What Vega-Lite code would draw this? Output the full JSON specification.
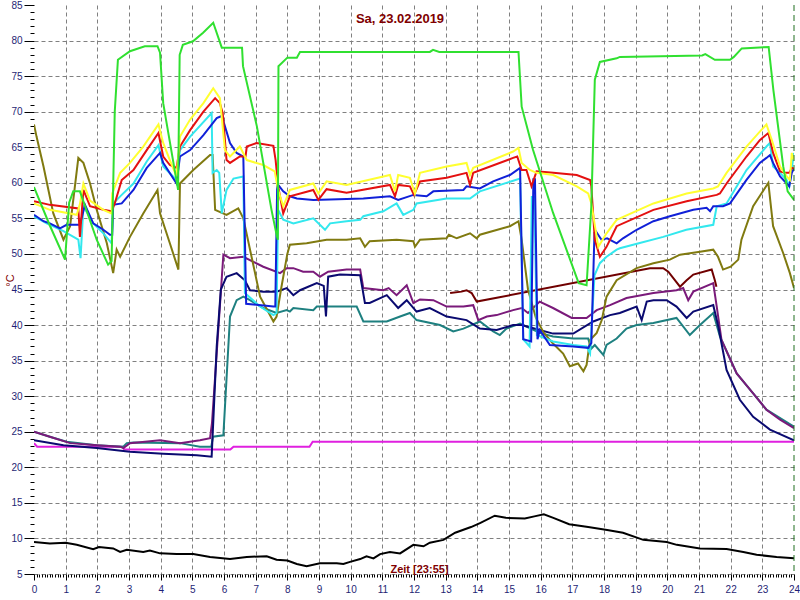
{
"$schema": "https://vega.github.io/schema/vega-lite/v6.json",
"width": 760, "height": 569,
"autosize": "none",
"padding": {"left": 34, "top": 5, "right": 6, "bottom": 26},
"background": "white",
"config": {"view": {"stroke": null}},
"title": {"text": "Sa, 23.02.2019", "font": "Liberation Sans", "fontSize": 13, "fontWeight": "bold", "color": "#800000", "anchor": "middle", "frame": "group", "offset": 0, "baseline": "alphabetic", "dy": 36, "dx": -14},
"datasets": {
"now": [{"t": 24}],
"series": [
{"s":"bk","t":0,"v":9.5},{"s":"bk","t":0.5,"v":9.3},{"s":"bk","t":1,"v":9.4},{"s":"bk","t":1.35,"v":9.1},{"s":"bk","t":1.87,"v":8.5},{"s":"bk","t":2.05,"v":8.8},{"s":"bk","t":2.5,"v":8.6},{"s":"bk","t":2.72,"v":8.1},{"s":"bk","t":2.93,"v":8.4},{"s":"bk","t":3.45,"v":8.1},{"s":"bk","t":3.66,"v":8.3},{"s":"bk","t":3.98,"v":7.9},{"s":"bk","t":4.5,"v":7.8},{"s":"bk","t":5.03,"v":7.8},{"s":"bk","t":5.56,"v":7.4},{"s":"bk","t":6.19,"v":7.1},{"s":"bk","t":6.72,"v":7.4},{"s":"bk","t":7.35,"v":7.5},{"s":"bk","t":7.66,"v":7.0},{"s":"bk","t":8,"v":6.9},{"s":"bk","t":8.3,"v":6.4},{"s":"bk","t":8.61,"v":6.1},{"s":"bk","t":9.03,"v":6.5},{"s":"bk","t":9.56,"v":6.5},{"s":"bk","t":9.77,"v":6.4},{"s":"bk","t":9.98,"v":6.7},{"s":"bk","t":10.3,"v":7.1},{"s":"bk","t":10.5,"v":7.5},{"s":"bk","t":10.72,"v":7.2},{"s":"bk","t":10.93,"v":7.8},{"s":"bk","t":11.24,"v":8.1},{"s":"bk","t":11.56,"v":7.9},{"s":"bk","t":11.98,"v":9.1},{"s":"bk","t":12.3,"v":8.9},{"s":"bk","t":12.5,"v":9.4},{"s":"bk","t":12.93,"v":9.8},{"s":"bk","t":13.3,"v":10.8},{"s":"bk","t":13.8,"v":11.6},{"s":"bk","t":14.1,"v":12.2},{"s":"bk","t":14.55,"v":13.2},{"s":"bk","t":14.9,"v":12.9},{"s":"bk","t":15.5,"v":12.8},{"s":"bk","t":15.8,"v":13.1},{"s":"bk","t":16.1,"v":13.4},{"s":"bk","t":16.4,"v":12.9},{"s":"bk","t":16.9,"v":12.0},{"s":"bk","t":17.5,"v":11.6},{"s":"bk","t":18.1,"v":11.2},{"s":"bk","t":18.6,"v":10.8},{"s":"bk","t":19.24,"v":9.8},{"s":"bk","t":19.98,"v":9.5},{"s":"bk","t":20.3,"v":9.1},{"s":"bk","t":21.03,"v":8.6},{"s":"bk","t":21.87,"v":8.5},{"s":"bk","t":22.4,"v":8.1},{"s":"bk","t":22.82,"v":7.7},{"s":"bk","t":23.45,"v":7.4},{"s":"bk","t":24,"v":7.2},
{"s":"mg","t":0,"v":23.4},{"s":"mg","t":0.1,"v":22.9},{"s":"mg","t":2.8,"v":22.9},{"s":"mg","t":2.85,"v":22.5},{"s":"mg","t":6.2,"v":22.5},{"s":"mg","t":6.3,"v":22.9},{"s":"mg","t":8.7,"v":22.9},{"s":"mg","t":8.8,"v":23.6},{"s":"mg","t":24,"v":23.6},
{"s":"tl","t":0,"v":25},{"s":"tl","t":0.5,"v":24.3},{"s":"tl","t":1.03,"v":23.6},{"s":"tl","t":1.98,"v":23.1},{"s":"tl","t":2.82,"v":22.9},{"s":"tl","t":2.93,"v":23.4},{"s":"tl","t":3.14,"v":23.5},{"s":"tl","t":4.61,"v":23.4},{"s":"tl","t":5.24,"v":22.9},{"s":"tl","t":5.6,"v":22.9},{"s":"tl","t":5.65,"v":24.3},{"s":"tl","t":5.98,"v":24.5},{"s":"tl","t":6.19,"v":41.2},{"s":"tl","t":6.4,"v":43.5},{"s":"tl","t":6.61,"v":44},{"s":"tl","t":6.82,"v":43.5},{"s":"tl","t":7.24,"v":42.4},{"s":"tl","t":7.66,"v":41.7},{"s":"tl","t":7.98,"v":42.1},{"s":"tl","t":8.08,"v":41.9},{"s":"tl","t":8.19,"v":42.4},{"s":"tl","t":8.82,"v":42.1},{"s":"tl","t":8.93,"v":42.6},{"s":"tl","t":9.66,"v":42.6},{"s":"tl","t":10.19,"v":42.6},{"s":"tl","t":10.4,"v":40.5},{"s":"tl","t":11.14,"v":40.5},{"s":"tl","t":11.56,"v":41.2},{"s":"tl","t":11.87,"v":41.7},{"s":"tl","t":12.08,"v":40.7},{"s":"tl","t":12.82,"v":40},{"s":"tl","t":13.24,"v":39.1},{"s":"tl","t":13.56,"v":39.5},{"s":"tl","t":14.08,"v":40.5},{"s":"tl","t":14.5,"v":39.1},{"s":"tl","t":14.71,"v":38.6},{"s":"tl","t":14.92,"v":39.5},{"s":"tl","t":15.35,"v":40.2},{"s":"tl","t":15.97,"v":38.9},{"s":"tl","t":16.39,"v":38.4},{"s":"tl","t":17.03,"v":38.1},{"s":"tl","t":17.5,"v":38.1},{"s":"tl","t":17.6,"v":36.7},{"s":"tl","t":17.71,"v":37.2},{"s":"tl","t":17.98,"v":35.8},{"s":"tl","t":18.08,"v":37.2},{"s":"tl","t":18.4,"v":38.1},{"s":"tl","t":18.71,"v":39.5},{"s":"tl","t":19.03,"v":40},{"s":"tl","t":19.56,"v":40.3},{"s":"tl","t":20.29,"v":41},{"s":"tl","t":20.71,"v":38.6},{"s":"tl","t":21.03,"v":40},{"s":"tl","t":21.45,"v":41.7},{"s":"tl","t":21.66,"v":38.4},{"s":"tl","t":22.19,"v":33.2},{"s":"tl","t":22.71,"v":30.4},{"s":"tl","t":23.13,"v":28.1},{"s":"tl","t":24,"v":25.7},
{"s":"pu","t":0,"v":25},{"s":"pu","t":0.5,"v":24.3},{"s":"pu","t":1.14,"v":23.4},{"s":"pu","t":1.98,"v":23.1},{"s":"pu","t":2.72,"v":22.9},{"s":"pu","t":2.82,"v":22.7},{"s":"pu","t":3.03,"v":23.4},{"s":"pu","t":3.98,"v":23.8},{"s":"pu","t":4.61,"v":23.4},{"s":"pu","t":5.24,"v":23.8},{"s":"pu","t":5.56,"v":24.1},{"s":"pu","t":5.62,"v":26.2},{"s":"pu","t":5.98,"v":49.9},{"s":"pu","t":6.19,"v":49.4},{"s":"pu","t":6.61,"v":49.6},{"s":"pu","t":7.24,"v":48.2},{"s":"pu","t":7.77,"v":47.3},{"s":"pu","t":7.98,"v":48},{"s":"pu","t":8.19,"v":48},{"s":"pu","t":8.5,"v":47.5},{"s":"pu","t":8.82,"v":47.5},{"s":"pu","t":9.03,"v":46.8},{"s":"pu","t":9.29,"v":47.5},{"s":"pu","t":9.87,"v":47.8},{"s":"pu","t":10.3,"v":47.8},{"s":"pu","t":10.4,"v":45.2},{"s":"pu","t":11.03,"v":44.9},{"s":"pu","t":11.2,"v":45.2},{"s":"pu","t":11.45,"v":44.2},{"s":"pu","t":11.77,"v":45.6},{"s":"pu","t":11.98,"v":43.1},{"s":"pu","t":12.19,"v":43.6},{"s":"pu","t":12.61,"v":43.5},{"s":"pu","t":13.03,"v":42.6},{"s":"pu","t":13.56,"v":42.6},{"s":"pu","t":13.87,"v":42.8},{"s":"pu","t":14.03,"v":40.7},{"s":"pu","t":14.3,"v":41.2},{"s":"pu","t":14.61,"v":41.4},{"s":"pu","t":15.13,"v":42.1},{"s":"pu","t":15.4,"v":42.4},{"s":"pu","t":15.6,"v":41.7},{"s":"pu","t":15.97,"v":43.3},{"s":"pu","t":16.39,"v":42.4},{"s":"pu","t":16.98,"v":41},{"s":"pu","t":17.45,"v":41},{"s":"pu","t":17.77,"v":42.1},{"s":"pu","t":18.19,"v":42.8},{"s":"pu","t":18.71,"v":43.8},{"s":"pu","t":19.56,"v":44.5},{"s":"pu","t":20.29,"v":44.9},{"s":"pu","t":20.5,"v":45.2},{"s":"pu","t":20.66,"v":43.5},{"s":"pu","t":20.82,"v":44.7},{"s":"pu","t":21.45,"v":45.9},{"s":"pu","t":21.56,"v":42.6},{"s":"pu","t":21.71,"v":37.9},{"s":"pu","t":22.19,"v":33.2},{"s":"pu","t":22.71,"v":30.4},{"s":"pu","t":23.13,"v":28.1},{"s":"pu","t":23.56,"v":26.7},{"s":"pu","t":24,"v":25.5},
{"s":"nv","t":0,"v":23.8},{"s":"nv","t":0.93,"v":23.1},{"s":"nv","t":1.98,"v":22.7},{"s":"nv","t":3.03,"v":22.2},{"s":"nv","t":4.08,"v":21.9},{"s":"nv","t":5.14,"v":21.7},{"s":"nv","t":5.61,"v":21.5},{"s":"nv","t":5.77,"v":37},{"s":"nv","t":5.9,"v":45},{"s":"nv","t":6.08,"v":46.8},{"s":"nv","t":6.4,"v":47.3},{"s":"nv","t":6.66,"v":46.3},{"s":"nv","t":6.82,"v":44.9},{"s":"nv","t":7.24,"v":44.7},{"s":"nv","t":7.66,"v":44.7},{"s":"nv","t":7.98,"v":45.2},{"s":"nv","t":8.19,"v":44.2},{"s":"nv","t":8.4,"v":44.9},{"s":"nv","t":8.93,"v":45.9},{"s":"nv","t":9.15,"v":45.5},{"s":"nv","t":9.22,"v":41.2},{"s":"nv","t":9.29,"v":46.8},{"s":"nv","t":9.66,"v":47.1},{"s":"nv","t":10.3,"v":47},{"s":"nv","t":10.45,"v":43.1},{"s":"nv","t":10.6,"v":43.1},{"s":"nv","t":11.14,"v":44.2},{"s":"nv","t":11.5,"v":42.4},{"s":"nv","t":11.77,"v":43.5},{"s":"nv","t":12.08,"v":41.9},{"s":"nv","t":12.5,"v":42.4},{"s":"nv","t":13.03,"v":41.2},{"s":"nv","t":13.66,"v":40.7},{"s":"nv","t":14.08,"v":39.5},{"s":"nv","t":14.61,"v":39.3},{"s":"nv","t":15.13,"v":40},{"s":"nv","t":15.4,"v":40},{"s":"nv","t":15.97,"v":39.3},{"s":"nv","t":16.39,"v":38.8},{"s":"nv","t":17.03,"v":38.8},{"s":"nv","t":17.66,"v":40.5},{"s":"nv","t":18.19,"v":41.4},{"s":"nv","t":18.5,"v":41.7},{"s":"nv","t":19.03,"v":42.6},{"s":"nv","t":19.19,"v":40.7},{"s":"nv","t":19.35,"v":43.3},{"s":"nv","t":19.56,"v":43.5},{"s":"nv","t":19.98,"v":43.5},{"s":"nv","t":20.29,"v":42.6},{"s":"nv","t":20.61,"v":41},{"s":"nv","t":20.82,"v":41.9},{"s":"nv","t":21.45,"v":42.8},{"s":"nv","t":21.61,"v":39.8},{"s":"nv","t":21.87,"v":33.7},{"s":"nv","t":22.29,"v":29.5},{"s":"nv","t":22.71,"v":27.1},{"s":"nv","t":23.24,"v":25.3},{"s":"nv","t":24,"v":23.8},
{"s":"mr","t":13.14,"v":44.5},{"s":"mr","t":13.5,"v":44.7},{"s":"mr","t":13.66,"v":44.9},{"s":"mr","t":13.82,"v":44.5},{"s":"mr","t":13.98,"v":43.3},{"s":"mr","t":19.45,"v":48},{"s":"mr","t":19.87,"v":48},{"s":"mr","t":20.03,"v":47.5},{"s":"mr","t":20.4,"v":45.4},{"s":"mr","t":20.61,"v":46.3},{"s":"mr","t":20.82,"v":47.1},{"s":"mr","t":21.4,"v":47.8},{"s":"mr","t":21.5,"v":46.3},{"s":"mr","t":21.55,"v":45.4},
{"s":"ol","t":0,"v":68.2},{"s":"ol","t":0.08,"v":66.5},{"s":"ol","t":0.3,"v":62.3},{"s":"ol","t":0.61,"v":55.7},{"s":"ol","t":0.93,"v":52},{"s":"ol","t":1.14,"v":53.9},{"s":"ol","t":1.4,"v":63.5},{"s":"ol","t":1.56,"v":62.8},{"s":"ol","t":1.77,"v":59.9},{"s":"ol","t":1.98,"v":56.2},{"s":"ol","t":2.3,"v":51.5},{"s":"ol","t":2.5,"v":47.3},{"s":"ol","t":2.61,"v":50.6},{"s":"ol","t":2.72,"v":49.6},{"s":"ol","t":3.03,"v":52.4},{"s":"ol","t":3.45,"v":55.7},{"s":"ol","t":3.9,"v":59},{"s":"ol","t":3.98,"v":55.7},{"s":"ol","t":4.29,"v":51.5},{"s":"ol","t":4.56,"v":47.8},{"s":"ol","t":4.61,"v":59.9},{"s":"ol","t":5.03,"v":61.8},{"s":"ol","t":5.56,"v":63.9},{"s":"ol","t":5.64,"v":63.9},{"s":"ol","t":5.72,"v":56.2},{"s":"ol","t":6.08,"v":55.5},{"s":"ol","t":6.45,"v":56.4},{"s":"ol","t":6.61,"v":55},{"s":"ol","t":7.14,"v":44},{"s":"ol","t":7.56,"v":40.5},{"s":"ol","t":7.66,"v":41.2},{"s":"ol","t":7.8,"v":45},{"s":"ol","t":8.0,"v":50},{"s":"ol","t":8.08,"v":51.3},{"s":"ol","t":8.61,"v":51.5},{"s":"ol","t":9.24,"v":52},{"s":"ol","t":9.87,"v":52},{"s":"ol","t":10.3,"v":52.2},{"s":"ol","t":10.45,"v":51},{"s":"ol","t":10.6,"v":51.8},{"s":"ol","t":11.45,"v":52},{"s":"ol","t":11.98,"v":51.8},{"s":"ol","t":12.03,"v":51},{"s":"ol","t":12.19,"v":52},{"s":"ol","t":13.03,"v":52.2},{"s":"ol","t":13.1,"v":52.7},{"s":"ol","t":13.35,"v":52.2},{"s":"ol","t":13.77,"v":52.9},{"s":"ol","t":13.98,"v":52.2},{"s":"ol","t":14.08,"v":52.7},{"s":"ol","t":15.03,"v":53.9},{"s":"ol","t":15.3,"v":54.6},{"s":"ol","t":15.4,"v":52},{"s":"ol","t":15.6,"v":45},{"s":"ol","t":15.85,"v":41},{"s":"ol","t":16.1,"v":38.9},{"s":"ol","t":16.39,"v":37.4},{"s":"ol","t":16.71,"v":36},{"s":"ol","t":16.92,"v":34.2},{"s":"ol","t":17.18,"v":34.6},{"s":"ol","t":17.35,"v":33.5},{"s":"ol","t":17.45,"v":34.4},{"s":"ol","t":17.56,"v":37.9},{"s":"ol","t":17.77,"v":38.9},{"s":"ol","t":17.93,"v":40.7},{"s":"ol","t":18.08,"v":44},{"s":"ol","t":18.4,"v":46.3},{"s":"ol","t":19.03,"v":48},{"s":"ol","t":19.56,"v":48.7},{"s":"ol","t":20.08,"v":49.2},{"s":"ol","t":20.4,"v":49.9},{"s":"ol","t":21.03,"v":50.3},{"s":"ol","t":21.45,"v":50.6},{"s":"ol","t":21.6,"v":49.6},{"s":"ol","t":21.76,"v":47.8},{"s":"ol","t":22.0,"v":48.2},{"s":"ol","t":22.24,"v":49.2},{"s":"ol","t":22.34,"v":52},{"s":"ol","t":22.71,"v":56.7},{"s":"ol","t":23.19,"v":60},{"s":"ol","t":23.34,"v":53.9},{"s":"ol","t":23.66,"v":50.1},{"s":"ol","t":23.87,"v":47.3},{"s":"ol","t":24,"v":45.2},
{"s":"cy","t":0,"v":55.3},{"s":"cy","t":0.4,"v":54.3},{"s":"cy","t":0.93,"v":53.2},{"s":"cy","t":1.4,"v":52},{"s":"cy","t":1.47,"v":49.4},{"s":"cy","t":1.56,"v":56.7},{"s":"cy","t":1.87,"v":54.3},{"s":"cy","t":2.19,"v":52.9},{"s":"cy","t":2.45,"v":51.5},{"s":"cy","t":2.5,"v":57.1},{"s":"cy","t":2.77,"v":58.3},{"s":"cy","t":3.14,"v":59.9},{"s":"cy","t":3.56,"v":63},{"s":"cy","t":3.93,"v":65.3},{"s":"cy","t":4.08,"v":62.3},{"s":"cy","t":4.5,"v":60.4},{"s":"cy","t":4.61,"v":64.6},{"s":"cy","t":4.93,"v":66.5},{"s":"cy","t":5.61,"v":69.8},{"s":"cy","t":5.64,"v":61.4},{"s":"cy","t":5.77,"v":61.8},{"s":"cy","t":5.85,"v":61.4},{"s":"cy","t":5.93,"v":55.7},{"s":"cy","t":6.08,"v":59},{"s":"cy","t":6.3,"v":60.6},{"s":"cy","t":6.61,"v":60.9},{"s":"cy","t":6.66,"v":44.5},{"s":"cy","t":7.14,"v":42.6},{"s":"cy","t":7.56,"v":41.4},{"s":"cy","t":7.66,"v":41.7},{"s":"cy","t":7.71,"v":56.2},{"s":"cy","t":7.87,"v":54.8},{"s":"cy","t":8.19,"v":54.3},{"s":"cy","t":8.82,"v":55},{"s":"cy","t":9.19,"v":53.4},{"s":"cy","t":9.35,"v":54.3},{"s":"cy","t":9.87,"v":54.6},{"s":"cy","t":10.3,"v":54.8},{"s":"cy","t":10.4,"v":55.3},{"s":"cy","t":11.03,"v":56},{"s":"cy","t":11.45,"v":57.1},{"s":"cy","t":11.66,"v":55.5},{"s":"cy","t":11.98,"v":56.2},{"s":"cy","t":12.08,"v":57.1},{"s":"cy","t":13.03,"v":57.8},{"s":"cy","t":13.77,"v":57.8},{"s":"cy","t":14.08,"v":58.8},{"s":"cy","t":15.35,"v":60.6},{"s":"cy","t":15.45,"v":38},{"s":"cy","t":15.65,"v":37},{"s":"cy","t":15.72,"v":58},{"s":"cy","t":15.8,"v":58},{"s":"cy","t":15.88,"v":38.6},{"s":"cy","t":16.39,"v":37.7},{"s":"cy","t":17.03,"v":37.2},{"s":"cy","t":17.45,"v":37},{"s":"cy","t":17.56,"v":36},{"s":"cy","t":17.7,"v":47},{"s":"cy","t":17.87,"v":48.7},{"s":"cy","t":18.08,"v":49.6},{"s":"cy","t":18.4,"v":50.6},{"s":"cy","t":18.5,"v":50.8},{"s":"cy","t":19.1,"v":51.5},{"s":"cy","t":19.87,"v":52.4},{"s":"cy","t":20.6,"v":53.4},{"s":"cy","t":21.45,"v":54.1},{"s":"cy","t":21.56,"v":56.7},{"s":"cy","t":21.87,"v":57.1},{"s":"cy","t":22.5,"v":61.8},{"s":"cy","t":23.13,"v":65.1},{"s":"cy","t":23.24,"v":65.6},{"s":"cy","t":23.34,"v":62.3},{"s":"cy","t":23.56,"v":61.4},{"s":"cy","t":23.77,"v":60.4},{"s":"cy","t":23.85,"v":59.5},{"s":"cy","t":24,"v":64.2},
{"s":"bl","t":0,"v":55.5},{"s":"bl","t":0.3,"v":54.6},{"s":"bl","t":0.5,"v":54.3},{"s":"bl","t":0.82,"v":53.6},{"s":"bl","t":1.03,"v":54.1},{"s":"bl","t":1.45,"v":54.1},{"s":"bl","t":1.61,"v":56.9},{"s":"bl","t":1.87,"v":54.3},{"s":"bl","t":2.19,"v":53.4},{"s":"bl","t":2.4,"v":52.7},{"s":"bl","t":2.47,"v":52.7},{"s":"bl","t":2.5,"v":56.9},{"s":"bl","t":2.77,"v":57.1},{"s":"bl","t":3.14,"v":59},{"s":"bl","t":3.56,"v":62.1},{"s":"bl","t":3.98,"v":64.2},{"s":"bl","t":4.08,"v":62.8},{"s":"bl","t":4.5,"v":59.9},{"s":"bl","t":4.61,"v":63.7},{"s":"bl","t":4.93,"v":64.6},{"s":"bl","t":5.35,"v":66.7},{"s":"bl","t":5.77,"v":69.1},{"s":"bl","t":5.93,"v":69.4},{"s":"bl","t":6.19,"v":65.6},{"s":"bl","t":6.4,"v":64.2},{"s":"bl","t":6.61,"v":63.7},{"s":"bl","t":6.7,"v":43},{"s":"bl","t":7.56,"v":42.6},{"s":"bl","t":7.62,"v":42.6},{"s":"bl","t":7.68,"v":59.9},{"s":"bl","t":7.87,"v":58.8},{"s":"bl","t":8.08,"v":58.1},{"s":"bl","t":8.3,"v":57.8},{"s":"bl","t":8.82,"v":57.6},{"s":"bl","t":10.4,"v":57.8},{"s":"bl","t":11.24,"v":58.1},{"s":"bl","t":11.5,"v":57.6},{"s":"bl","t":11.98,"v":58.3},{"s":"bl","t":12.4,"v":58.1},{"s":"bl","t":12.61,"v":58.8},{"s":"bl","t":13.56,"v":59},{"s":"bl","t":13.66,"v":59.5},{"s":"bl","t":14.08,"v":59.2},{"s":"bl","t":14.5,"v":60.2},{"s":"bl","t":15.03,"v":61.1},{"s":"bl","t":15.35,"v":62.1},{"s":"bl","t":15.45,"v":38},{"s":"bl","t":15.7,"v":37.7},{"s":"bl","t":15.77,"v":60.5},{"s":"bl","t":15.82,"v":60.5},{"s":"bl","t":15.9,"v":38},{"s":"bl","t":15.97,"v":39.3},{"s":"bl","t":16.29,"v":37.2},{"s":"bl","t":17.03,"v":37},{"s":"bl","t":17.5,"v":36.8},{"s":"bl","t":17.6,"v":37.5},{"s":"bl","t":17.7,"v":53},{"s":"bl","t":17.74,"v":53.2},{"s":"bl","t":17.92,"v":52},{"s":"bl","t":18.1,"v":52.2},{"s":"bl","t":18.4,"v":51.5},{"s":"bl","t":18.6,"v":52.2},{"s":"bl","t":19.03,"v":53.4},{"s":"bl","t":19.56,"v":54.6},{"s":"bl","t":20.08,"v":55.3},{"s":"bl","t":20.82,"v":56.2},{"s":"bl","t":21.24,"v":56.5},{"s":"bl","t":21.35,"v":56},{"s":"bl","t":21.45,"v":56.7},{"s":"bl","t":21.76,"v":56.7},{"s":"bl","t":21.98,"v":57.1},{"s":"bl","t":22.5,"v":60.4},{"s":"bl","t":22.92,"v":62.8},{"s":"bl","t":23.13,"v":63.5},{"s":"bl","t":23.24,"v":63.9},{"s":"bl","t":23.34,"v":62.8},{"s":"bl","t":23.56,"v":60.9},{"s":"bl","t":23.77,"v":59.9},{"s":"bl","t":23.85,"v":59.5},{"s":"bl","t":23.93,"v":61.4},{"s":"bl","t":24,"v":62},
{"s":"rd","t":0,"v":57.4},{"s":"rd","t":0.5,"v":56.9},{"s":"rd","t":1.4,"v":56.4},{"s":"rd","t":1.45,"v":52.4},{"s":"rd","t":1.56,"v":59},{"s":"rd","t":1.77,"v":56.7},{"s":"rd","t":2.19,"v":56.2},{"s":"rd","t":2.45,"v":56},{"s":"rd","t":2.55,"v":57.1},{"s":"rd","t":2.77,"v":60.4},{"s":"rd","t":3.14,"v":61.8},{"s":"rd","t":3.56,"v":64.6},{"s":"rd","t":3.93,"v":67},{"s":"rd","t":4.08,"v":63.7},{"s":"rd","t":4.29,"v":62.5},{"s":"rd","t":4.5,"v":62.1},{"s":"rd","t":4.61,"v":65.1},{"s":"rd","t":4.93,"v":67.4},{"s":"rd","t":5.35,"v":70},{"s":"rd","t":5.72,"v":71.9},{"s":"rd","t":5.87,"v":71.2},{"s":"rd","t":5.96,"v":69.8},{"s":"rd","t":6.08,"v":63.2},{"s":"rd","t":6.19,"v":62.8},{"s":"rd","t":6.5,"v":63.7},{"s":"rd","t":6.68,"v":63.7},{"s":"rd","t":6.72,"v":65.1},{"s":"rd","t":7.03,"v":65.6},{"s":"rd","t":7.56,"v":65.2},{"s":"rd","t":7.63,"v":63.2},{"s":"rd","t":7.71,"v":59.5},{"s":"rd","t":7.87,"v":55.7},{"s":"rd","t":8.08,"v":58.1},{"s":"rd","t":8.82,"v":59},{"s":"rd","t":8.98,"v":57.6},{"s":"rd","t":9.24,"v":59.1},{"s":"rd","t":9.87,"v":58.6},{"s":"rd","t":11.24,"v":59.7},{"s":"rd","t":11.4,"v":58.1},{"s":"rd","t":11.5,"v":59.7},{"s":"rd","t":11.87,"v":59.5},{"s":"rd","t":12.0,"v":58.3},{"s":"rd","t":12.19,"v":60.2},{"s":"rd","t":13.03,"v":60.7},{"s":"rd","t":13.66,"v":61.4},{"s":"rd","t":13.77,"v":59.7},{"s":"rd","t":13.87,"v":61.4},{"s":"rd","t":15.13,"v":63.5},{"s":"rd","t":15.26,"v":63.7},{"s":"rd","t":15.4,"v":61.8},{"s":"rd","t":15.55,"v":61.8},{"s":"rd","t":15.71,"v":59.5},{"s":"rd","t":15.87,"v":61.6},{"s":"rd","t":16.4,"v":61.4},{"s":"rd","t":17.14,"v":61.1},{"s":"rd","t":17.56,"v":60.4},{"s":"rd","t":17.6,"v":59.5},{"s":"rd","t":17.71,"v":52},{"s":"rd","t":17.87,"v":49.6},{"s":"rd","t":18.08,"v":51},{"s":"rd","t":18.4,"v":53.9},{"s":"rd","t":19.56,"v":56.2},{"s":"rd","t":20.61,"v":57.4},{"s":"rd","t":21.56,"v":58.3},{"s":"rd","t":21.66,"v":58.5},{"s":"rd","t":21.87,"v":59.9},{"s":"rd","t":22.5,"v":63.7},{"s":"rd","t":22.92,"v":66},{"s":"rd","t":23.19,"v":67},{"s":"rd","t":23.34,"v":64.2},{"s":"rd","t":23.56,"v":61.6},{"s":"rd","t":23.71,"v":61.4},{"s":"rd","t":23.85,"v":61.4},{"s":"rd","t":23.93,"v":62.1},{"s":"rd","t":24,"v":62},
{"s":"ye","t":0,"v":57.1},{"s":"ye","t":0.5,"v":56.2},{"s":"ye","t":1.35,"v":55.5},{"s":"ye","t":1.45,"v":57},{"s":"ye","t":1.56,"v":59.9},{"s":"ye","t":1.77,"v":57.5},{"s":"ye","t":2.19,"v":56.2},{"s":"ye","t":2.45,"v":55.7},{"s":"ye","t":2.47,"v":58.5},{"s":"ye","t":2.72,"v":61.4},{"s":"ye","t":3.03,"v":62.8},{"s":"ye","t":3.45,"v":65.1},{"s":"ye","t":3.93,"v":68.2},{"s":"ye","t":4.08,"v":65.6},{"s":"ye","t":4.29,"v":63.2},{"s":"ye","t":4.5,"v":60.9},{"s":"ye","t":4.61,"v":66.5},{"s":"ye","t":4.93,"v":68.9},{"s":"ye","t":5.35,"v":71.2},{"s":"ye","t":5.66,"v":73.3},{"s":"ye","t":5.87,"v":71.9},{"s":"ye","t":6.03,"v":64.6},{"s":"ye","t":6.19,"v":63.7},{"s":"ye","t":6.5,"v":65.1},{"s":"ye","t":6.72,"v":63.2},{"s":"ye","t":7.24,"v":62.5},{"s":"ye","t":7.6,"v":61.6},{"s":"ye","t":7.71,"v":59},{"s":"ye","t":7.87,"v":56.7},{"s":"ye","t":8.08,"v":59},{"s":"ye","t":8.82,"v":59.9},{"s":"ye","t":8.98,"v":58.5},{"s":"ye","t":9.24,"v":60.2},{"s":"ye","t":9.87,"v":59.7},{"s":"ye","t":11.24,"v":61.1},{"s":"ye","t":11.4,"v":58.8},{"s":"ye","t":11.5,"v":61.1},{"s":"ye","t":11.87,"v":60.7},{"s":"ye","t":12.03,"v":58.5},{"s":"ye","t":12.19,"v":61.4},{"s":"ye","t":13.03,"v":62.3},{"s":"ye","t":13.66,"v":62.8},{"s":"ye","t":13.77,"v":61.1},{"s":"ye","t":13.87,"v":62.1},{"s":"ye","t":15.13,"v":64.4},{"s":"ye","t":15.3,"v":64.9},{"s":"ye","t":15.4,"v":62.8},{"s":"ye","t":15.66,"v":61.8},{"s":"ye","t":15.87,"v":61.4},{"s":"ye","t":16.4,"v":61.1},{"s":"ye","t":17.14,"v":59.5},{"s":"ye","t":17.5,"v":58.5},{"s":"ye","t":17.6,"v":57.1},{"s":"ye","t":17.82,"v":51},{"s":"ye","t":18.08,"v":52.9},{"s":"ye","t":18.4,"v":54.8},{"s":"ye","t":19.56,"v":57.1},{"s":"ye","t":20.61,"v":58.5},{"s":"ye","t":21.45,"v":59.2},{"s":"ye","t":21.6,"v":59.5},{"s":"ye","t":21.87,"v":61.4},{"s":"ye","t":22.5,"v":65.1},{"s":"ye","t":22.92,"v":67.2},{"s":"ye","t":23.13,"v":68.2},{"s":"ye","t":23.3,"v":66},{"s":"ye","t":23.56,"v":62.3},{"s":"ye","t":23.77,"v":60.9},{"s":"ye","t":23.87,"v":60.4},{"s":"ye","t":23.93,"v":64.2},{"s":"ye","t":24,"v":63.2},
{"s":"gr","t":0,"v":59.4},{"s":"gr","t":0.5,"v":54},{"s":"gr","t":0.98,"v":49.2},{"s":"gr","t":1.11,"v":57.2},{"s":"gr","t":1.24,"v":58.8},{"s":"gr","t":1.45,"v":58.8},{"s":"gr","t":1.98,"v":52},{"s":"gr","t":2.34,"v":48.5},{"s":"gr","t":2.45,"v":49},{"s":"gr","t":2.55,"v":70},{"s":"gr","t":2.65,"v":77.3},{"s":"gr","t":3.03,"v":78.5},{"s":"gr","t":3.5,"v":79.2},{"s":"gr","t":3.9,"v":79.2},{"s":"gr","t":3.98,"v":78.3},{"s":"gr","t":4.08,"v":71.2},{"s":"gr","t":4.55,"v":59},{"s":"gr","t":4.6,"v":78},{"s":"gr","t":4.7,"v":79.4},{"s":"gr","t":5.02,"v":79.9},{"s":"gr","t":5.34,"v":81.1},{"s":"gr","t":5.66,"v":82.5},{"s":"gr","t":5.93,"v":79},{"s":"gr","t":6.57,"v":79},{"s":"gr","t":6.6,"v":76.4},{"s":"gr","t":7.04,"v":67.9},{"s":"gr","t":7.5,"v":56.2},{"s":"gr","t":7.67,"v":52.5},{"s":"gr","t":7.7,"v":52},{"s":"gr","t":7.72,"v":76.4},{"s":"gr","t":8.0,"v":77.6},{"s":"gr","t":8.3,"v":77.6},{"s":"gr","t":8.4,"v":78.4},{"s":"gr","t":12.5,"v":78.4},{"s":"gr","t":12.6,"v":78.7},{"s":"gr","t":12.8,"v":78.4},{"s":"gr","t":15.3,"v":78.4},{"s":"gr","t":15.4,"v":70.7},{"s":"gr","t":15.76,"v":64.6},{"s":"gr","t":16.39,"v":55.8},{"s":"gr","t":16.93,"v":49.2},{"s":"gr","t":17.2,"v":45.9},{"s":"gr","t":17.45,"v":45.6},{"s":"gr","t":17.6,"v":56.7},{"s":"gr","t":17.71,"v":74.5},{"s":"gr","t":17.87,"v":77},{"s":"gr","t":18.4,"v":77.5},{"s":"gr","t":18.5,"v":77.7},{"s":"gr","t":21.1,"v":77.9},{"s":"gr","t":21.2,"v":78.1},{"s":"gr","t":21.5,"v":77.3},{"s":"gr","t":21.98,"v":77.3},{"s":"gr","t":22.1,"v":77.7},{"s":"gr","t":22.35,"v":78.9},{"s":"gr","t":23.2,"v":79.1},{"s":"gr","t":23.35,"v":73},{"s":"gr","t":23.66,"v":62.3},{"s":"gr","t":23.8,"v":58.8},{"s":"gr","t":24,"v":57.6}
]},
"layer": [
{"data": {"name": "series"},
 "mark": {"type": "line", "strokeWidth": 2, "clip": true},
 "encoding": {
  "x": {"field": "t", "type": "quantitative", "scale": {"domain": [0, 24], "nice": false, "zero": false},
   "axis": {
    "tickCount": 1000,
    "values": [0,0.083,0.167,0.25,0.333,0.417,0.5,0.583,0.667,0.75,0.833,0.917,1,1.083,1.167,1.25,1.333,1.417,1.5,1.583,1.667,1.75,1.833,1.917,2,2.083,2.167,2.25,2.333,2.417,2.5,2.583,2.667,2.75,2.833,2.917,3,3.083,3.167,3.25,3.333,3.417,3.5,3.583,3.667,3.75,3.833,3.917,4,4.083,4.167,4.25,4.333,4.417,4.5,4.583,4.667,4.75,4.833,4.917,5,5.083,5.167,5.25,5.333,5.417,5.5,5.583,5.667,5.75,5.833,5.917,6,6.083,6.167,6.25,6.333,6.417,6.5,6.583,6.667,6.75,6.833,6.917,7,7.083,7.167,7.25,7.333,7.417,7.5,7.583,7.667,7.75,7.833,7.917,8,8.083,8.167,8.25,8.333,8.417,8.5,8.583,8.667,8.75,8.833,8.917,9,9.083,9.167,9.25,9.333,9.417,9.5,9.583,9.667,9.75,9.833,9.917,10,10.083,10.167,10.25,10.333,10.417,10.5,10.583,10.667,10.75,10.833,10.917,11,11.083,11.167,11.25,11.333,11.417,11.5,11.583,11.667,11.75,11.833,11.917,12,12.083,12.167,12.25,12.333,12.417,12.5,12.583,12.667,12.75,12.833,12.917,13,13.083,13.167,13.25,13.333,13.417,13.5,13.583,13.667,13.75,13.833,13.917,14,14.083,14.167,14.25,14.333,14.417,14.5,14.583,14.667,14.75,14.833,14.917,15,15.083,15.167,15.25,15.333,15.417,15.5,15.583,15.667,15.75,15.833,15.917,16,16.083,16.167,16.25,16.333,16.417,16.5,16.583,16.667,16.75,16.833,16.917,17,17.083,17.167,17.25,17.333,17.417,17.5,17.583,17.667,17.75,17.833,17.917,18,18.083,18.167,18.25,18.333,18.417,18.5,18.583,18.667,18.75,18.833,18.917,19,19.083,19.167,19.25,19.333,19.417,19.5,19.583,19.667,19.75,19.833,19.917,20,20.083,20.167,20.25,20.333,20.417,20.5,20.583,20.667,20.75,20.833,20.917,21,21.083,21.167,21.25,21.333,21.417,21.5,21.583,21.667,21.75,21.833,21.917,22,22.083,22.167,22.25,22.333,22.417,22.5,22.583,22.667,22.75,22.833,22.917,23,23.083,23.167,23.25,23.333,23.417,23.5,23.583,23.667,23.75,23.833,23.917,24],
    "labelExpr": "abs(datum.value - round(datum.value)) < 0.01 ? format(round(datum.value), 'd') : ''",
    "labelOverlap": false, "labelFlush": false,
    "labelFont": "Liberation Sans", "labelFontSize": 10, "labelColor": "#1F1F75", "labelPadding": 4,
    "domain": false,
    "tickColor": "#000000",
    "tickSize": {"condition": {"test": "abs(datum.value - round(datum.value)) < 0.01", "value": 6}, "value": 3},
    "grid": true, "gridColor": "#808080", "gridDash": [4, 3],
    "gridOpacity": {"condition": {"test": "abs(datum.value - round(datum.value)) < 0.01 && datum.value > 0.5 && datum.value < 23.5", "value": 1}, "value": 0},
    "title": "Zeit [23:55]", "titleFont": "Liberation Sans", "titleFontSize": 11, "titleFontWeight": "bold", "titleColor": "#800000",
    "titleX": 385, "titleY": -2, "titleAlign": "center", "titleBaseline": "alphabetic"
   }},
  "y": {"field": "v", "type": "quantitative", "scale": {"domain": [5, 85], "nice": false, "zero": false},
   "axis": {
    "tickCount": 1000,
    "values": [5,6,7,8,9,10,11,12,13,14,15,16,17,18,19,20,21,22,23,24,25,26,27,28,29,30,31,32,33,34,35,36,37,38,39,40,41,42,43,44,45,46,47,48,49,50,51,52,53,54,55,56,57,58,59,60,61,62,63,64,65,66,67,68,69,70,71,72,73,74,75,76,77,78,79,80,81,82,83,84,85],
    "labelExpr": "datum.value % 5 === 0 ? format(datum.value, 'd') : ''",
    "labelOverlap": false, "labelFlush": false,
    "labelFont": "Liberation Sans", "labelFontSize": 10, "labelColor": "#1F1F75", "labelPadding": 2,
    "domain": false,
    "tickColor": "#000000",
    "tickSize": {"condition": {"test": "datum.value % 5 === 0", "value": 10}, "value": 4},
    "grid": true, "gridColor": "#808080", "gridDash": [4, 3],
    "gridOpacity": {"condition": {"test": "datum.value % 5 === 0 && datum.value < 85", "value": 1}, "value": 0},
    "title": "°C", "titleFont": "Liberation Sans", "titleFontSize": 11, "titleFontWeight": "normal", "titleColor": "#800000",
    "titleX": -24, "titleY": 275, "titleAngle": -90, "titleAlign": "center", "titleBaseline": "middle"
   }},
  "color": {"field": "s", "type": "nominal", "legend": null,
   "scale": {"domain": ["bk","mg","tl","pu","nv","mr","ol","cy","bl","rd","ye","gr"],
             "range": ["#000000","#E020E0","#1E8080","#7A1A7A","#0A0A70","#700000","#807A10","#33E8EE","#1020D8","#E41010","#FFFF30","#30E030"]}}
 }},
{"data": {"name": "now"},
 "mark": {"type": "rule", "color": "#1E6E1E", "strokeDash": [6, 4], "strokeWidth": 1},
 "encoding": {"x": {"field": "t", "type": "quantitative"}}}
]
}
